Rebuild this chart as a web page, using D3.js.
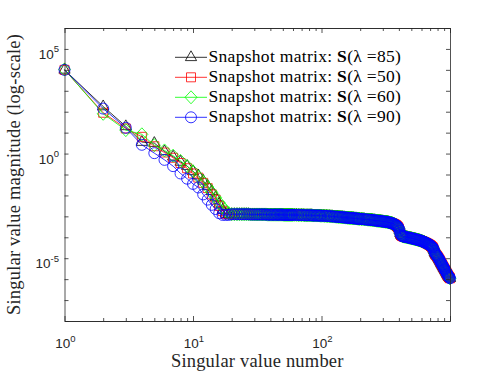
<!DOCTYPE html>
<html>
<head>
<meta charset="utf-8">
<script src="https://cdn.jsdelivr.net/npm/d3@7"></script>
<style>
    body { margin: 0; background: #fff; }
</style>
</head>
<body>
<div id="chart"></div>
<script>
// singular value number for the first points of each run
const headIdx = [1, 2, 3, 4, 5, 6, 7, 8, 9, 10, 11, 12, 13, 14, 15, 16, 17, 18, 19];

// log10 of the singular values (one array per snapshot matrix)
const lambda85Log10 = [4.00, 2.25, 1.30, 0.55, 0.50, 0.10, -0.15, -0.40, -0.60, -0.85, -1.05, -1.30, -1.55, -1.80, -2.10, -2.40, -2.70, -2.88, -2.90];
const lambda50Log10 = [4.00, 1.95, 1.20, 0.80, 0.35, 0.05, -0.20, -0.45, -0.70, -0.95, -1.15, -1.40, -1.65, -1.95, -2.20, -2.50, -2.75, -2.88, -2.90];
const lambda60Log10 = [4.02, 1.90, 1.12, 0.92, 0.40, 0.15, -0.10, -0.35, -0.60, -0.85, -1.10, -1.35, -1.60, -1.85, -2.10, -2.35, -2.55, -2.75, -2.85];
const lambda90Log10 = [4.00, 2.15, 1.23, 0.42, 0.02, -0.30, -0.60, -0.95, -1.20, -1.45, -1.62, -1.95, -2.20, -2.45, -2.65, -2.85, -2.93, -2.93, -2.93];

// the noise-floor part, where all four runs sit on top of each other
const tailIdx = [
    20, 21, 22, 23, 24, 25, 26, 27, 28, 29, 30, 31, 32, 33, 34, 35, 36, 37, 38, 39,
    40, 41, 42, 43, 44, 45, 46, 47, 48, 49, 50, 51, 52, 53, 54, 55, 56, 57, 58, 59, 60,
    62, 64, 66, 68, 70, 72, 74, 76, 78, 80, 82, 84, 86, 88, 90, 92, 94, 96, 98, 100,
    103, 106, 109, 112, 115, 118, 121, 124, 127, 130, 133, 136, 139, 142, 145, 148, 151,
    154, 157, 160, 163, 166, 169, 172, 175, 178, 181, 184, 187, 190, 193, 196, 199,
    205, 210, 215, 220, 225, 230, 235, 240, 245, 250, 255, 260, 265, 270, 275, 280, 285,
    290, 295, 300, 305, 310, 315, 320, 325, 330, 335, 340, 345, 350, 355, 360, 365, 370,
    375, 380, 385, 390, 395, 400, 405, 410, 415, 420, 425, 430, 435, 440,
    448, 456, 464, 472, 480, 488, 496, 504, 512, 520, 528, 536, 544, 552, 560, 568, 576,
    584, 592, 600, 608, 616, 624, 632, 640, 648, 656, 664, 672, 680, 688, 696, 704, 712,
    720, 728, 736, 744, 752, 760, 768, 776, 784, 792, 800, 808, 816, 824, 832, 840, 848,
    856, 864, 872, 880, 888, 896, 904, 912, 920, 928, 936, 944, 952, 960, 968, 976, 984,
    992, 1000
];
const tailLog10 = [
    -2.90, -2.90, -2.90, -2.90, -2.90, -2.90, -2.90, -2.90, -2.91, -2.91, -2.91, -2.91, -2.91, -2.91, -2.91, -2.91, -2.91, -2.91, -2.92, -2.92,
    -2.92, -2.92, -2.92, -2.92, -2.92, -2.92, -2.92, -2.92, -2.92, -2.92, -2.92, -2.93, -2.93, -2.93, -2.93, -2.93, -2.93, -2.93, -2.93, -2.93, -2.93,
    -2.93, -2.93, -2.94, -2.94, -2.94, -2.94, -2.95, -2.95, -2.95, -2.95, -2.95, -2.95, -2.96, -2.96, -2.96, -2.96, -2.96, -2.96, -2.97, -2.97,
    -2.97, -2.98, -2.98, -2.99, -2.99, -3.00, -3.00, -3.01, -3.01, -3.02, -3.02, -3.03, -3.03, -3.04, -3.04, -3.05, -3.05,
    -3.06, -3.06, -3.07, -3.07, -3.08, -3.08, -3.08, -3.09, -3.09, -3.10, -3.10, -3.10, -3.11, -3.11, -3.12, -3.12,
    -3.13, -3.13, -3.14, -3.15, -3.15, -3.16, -3.16, -3.17, -3.17, -3.18, -3.19, -3.19, -3.20, -3.21, -3.21, -3.22, -3.22,
    -3.23, -3.24, -3.24, -3.25, -3.25, -3.26, -3.26, -3.27, -3.28, -3.29, -3.30, -3.31, -3.32, -3.33, -3.35, -3.36, -3.38,
    -3.40, -3.42, -3.45, -3.48, -3.52, -3.58, -3.68, -3.80, -3.88, -3.92, -3.94, -3.95, -3.96, -3.97,
    -3.98, -3.99, -4.00, -4.01, -4.02, -4.03, -4.04, -4.05, -4.06, -4.07, -4.08, -4.09, -4.10, -4.11, -4.12, -4.13, -4.14,
    -4.15, -4.16, -4.18, -4.19, -4.20, -4.22, -4.23, -4.25, -4.26, -4.28, -4.30, -4.31, -4.33, -4.35, -4.37, -4.39, -4.41,
    -4.44, -4.47, -4.50, -4.56, -4.64, -4.72, -4.78, -4.82, -4.86, -4.89, -4.93, -4.97, -5.01, -5.06, -5.10, -5.15, -5.20,
    -5.25, -5.29, -5.33, -5.38, -5.42, -5.47, -5.51, -5.55, -5.59, -5.63, -5.67, -5.72, -5.76, -5.80, -5.84, -5.87, -5.90,
    -5.93, -5.96
];

const lambdas = ["85", "50", "60", "90"];
const xTickExps = [0, 1, 2];
const yTickExps = [5, 0, -5];

const width = 498;
const height = 374;
const plot = { left: 64.5, right: 450, top: 28, bottom: 321 };

const x = d3.scaleLog().domain([1, 1000]).range([plot.left, plot.right]);
const y = d3.scaleLog().domain([1e-8, 1e6]).range([plot.bottom, plot.top]);

const series = [
    { lambda: lambdas[0], head: lambda85Log10, color: "#000000", symbol: "triangle" },
    { lambda: lambdas[1], head: lambda50Log10, color: "#ff0000", symbol: "square" },
    { lambda: lambdas[2], head: lambda60Log10, color: "#00ff00", symbol: "diamond" },
    { lambda: lambdas[3], head: lambda90Log10, color: "#0000ff", symbol: "circle" }
];

series.forEach((s) => {
    const head = headIdx.map((n, i) => ({ n, v: Math.pow(10, s.head[i]) }));
    const tail = tailIdx.map((n, i) => ({ n, v: Math.pow(10, tailLog10[i]) }));
    s.points = head.concat(tail);
});

const symbolPath = {
    triangle: "M0,-6.5L5.6,3.3L-5.6,3.3Z",
    square: "M-4.5,-4.5H4.5V4.5H-4.5Z",
    diamond: "M0,-6.5L6,0L0,6.5L-6,0Z",
    circle: "M5.5,0A5.5,5.5,0,1,1,-5.5,0A5.5,5.5,0,1,1,5.5,0Z"
};

const axisColor = "#262626";
const serif = "'Liberation Serif', 'Times New Roman', serif";
const sans = "'Liberation Sans', Arial, sans-serif";

const svg = d3
    .select("#chart")
    .append("svg")
    .attr("width", width)
    .attr("height", height)
    .style("background", "#fff");

// data lines and markers
const line = d3
    .line()
    .x((d) => x(d.n))
    .y((d) => y(d.v));

series.forEach((s) => {
    const g = svg.append("g");
    g.append("path")
        .datum(s.points)
        .attr("d", line)
        .attr("fill", "none")
        .attr("stroke", s.color)
        .attr("stroke-width", 0.8);

    g.selectAll("path.mark")
        .data(s.points)
        .enter()
        .append("path")
        .attr("class", "mark")
        .attr("d", symbolPath[s.symbol])
        .attr("transform", (d) => `translate(${x(d.n)},${y(d.v)})`)
        .attr("fill", "none")
        .attr("stroke", s.color)
        .attr("stroke-width", 0.8);
});

// axes (box with inward ticks on all four sides)
const xMajor = [1, 10, 100, 1000];
const xMinor = [1, 10, 100].flatMap((d) => [2, 3, 4, 5, 6, 7, 8, 9].map((m) => m * d));
const yDecades = d3.range(-8, 7).map((e) => Math.pow(10, e));

function styleAxis(g) {
    g.selectAll(".domain").attr("stroke", axisColor).attr("stroke-width", 0.8);
    g.selectAll(".tick line").attr("stroke", axisColor).attr("stroke-width", 0.8);
}

svg.append("g")
    .attr("transform", `translate(0,${plot.bottom})`)
    .call(d3.axisBottom(x).tickValues(xMajor).tickSize(-5).tickSizeOuter(0).tickFormat(""))
    .call(styleAxis);
svg.append("g")
    .attr("transform", `translate(0,${plot.bottom})`)
    .call(d3.axisBottom(x).tickValues(xMinor).tickSize(-3).tickSizeOuter(0).tickFormat(""))
    .call(styleAxis);
svg.append("g")
    .attr("transform", `translate(0,${plot.top})`)
    .call(d3.axisTop(x).tickValues(xMajor).tickSize(-5).tickSizeOuter(0).tickFormat(""))
    .call(styleAxis);
svg.append("g")
    .attr("transform", `translate(0,${plot.top})`)
    .call(d3.axisTop(x).tickValues(xMinor).tickSize(-3).tickSizeOuter(0).tickFormat(""))
    .call(styleAxis);
svg.append("g")
    .attr("transform", `translate(${plot.left},0)`)
    .call(d3.axisLeft(y).tickValues(yDecades).tickSize(-4).tickSizeOuter(0).tickFormat(""))
    .call(styleAxis);
svg.append("g")
    .attr("transform", `translate(${plot.right},0)`)
    .call(d3.axisRight(y).tickValues(yDecades).tickSize(-4).tickSizeOuter(0).tickFormat(""))
    .call(styleAxis);

// tick labels as 10^k
function powerLabel(sel, exp) {
    sel.append("tspan").text("10");
    sel.append("tspan")
        .attr("dy", -6.5)
        .style("font-size", "9.5px")
        .text(exp < 0 ? "-" + Math.abs(exp) : String(exp));
}

xTickExps.forEach((e) => {
    svg.append("text")
        .attr("x", x(Math.pow(10, e)) + 1)
        .attr("y", 348)
        .attr("text-anchor", "middle")
        .style("font-family", sans)
        .style("font-size", "13.5px")
        .style("fill", axisColor)
        .call(powerLabel, e);
});

yTickExps.forEach((e) => {
    svg.append("text")
        .attr("x", 59)
        .attr("y", y(Math.pow(10, e)) + 10)
        .attr("text-anchor", "end")
        .style("font-family", sans)
        .style("font-size", "13.5px")
        .style("fill", axisColor)
        .call(powerLabel, e);
});

// axis titles
svg.append("text")
    .attr("x", (plot.left + plot.right) / 2)
    .attr("y", 367)
    .attr("text-anchor", "middle")
    .style("font-family", serif)
    .style("font-size", "18.5px")
    .style("letter-spacing", "0.2px")
    .style("fill", "#262626")
    .text("Singular value number");

svg.append("text")
    .attr("transform", `translate(20,${(plot.top + plot.bottom) / 2}) rotate(-90)`)
    .attr("text-anchor", "middle")
    .style("font-family", serif)
    .style("font-size", "18.5px")
    .style("letter-spacing", "0.2px")
    .style("fill", "#262626")
    .text("Singular value magnitude (log-scale)");

// legend (no box)
const legend = svg
    .selectAll(".legend")
    .data(series)
    .enter()
    .append("g")
    .attr("class", "legend")
    .attr("transform", (d, i) => `translate(0,${57.3 + i * 20})`);

legend.append("line")
    .attr("x1", 175)
    .attr("x2", 207)
    .attr("stroke", (d) => d.color)
    .attr("stroke-width", 0.8);

legend.append("path")
    .attr("d", (d) => symbolPath[d.symbol])
    .attr("transform", "translate(191,0)")
    .attr("fill", "none")
    .attr("stroke", (d) => d.color)
    .attr("stroke-width", 0.8);

const legendText = legend.append("text")
    .attr("x", 208.5)
    .attr("y", 4.8)
    .style("font-family", serif)
    .style("font-size", "17.5px")
    .style("letter-spacing", "0.3px")
    .style("fill", "#000");

legendText.append("tspan").text("Snapshot matrix: ");
legendText.append("tspan").style("font-weight", "bold").text("S");
legendText.append("tspan").text((d) => `(λ =${d.lambda})`);
</script>
</body>
</html>
